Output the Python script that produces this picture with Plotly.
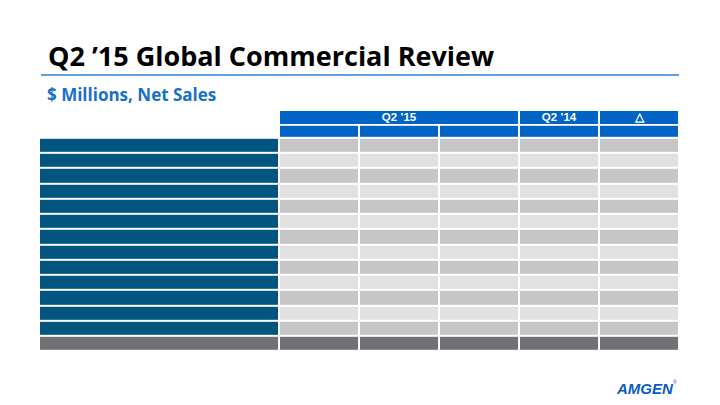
import plotly.graph_objects as go

# ---------------- data ----------------
title_text = "Q2 ’15 Global Commercial Review"
subtitle_text = "$ Millions, Net Sales"
group_headers = ["", "Q2 ’15", "Q2 ’14", "△"]
group_spans = [3, 3, 1, 1]
sub_headers = ["", "", "", "", "", ""]
row_labels = ["", "", "", "", "", "", "", "", "", "", "", "", ""]
total_label = [""]
n_value_cols = 5

# ---------------- styling ----------------
NAN = None
colors = ["#01557f", "#c6c6c8", "#e1e1e1", "#727074", "#0063c6"]
cs = []
for k, c in enumerate(colors):
    cs += [[k / len(colors), c], [(k + 1) / len(colors), c]]

col_units = [3] + [1] * n_value_cols
x_edges = [0]
for w in col_units:
    x_edges.append(x_edges[-1] + w)
gx_edges = [0]
for w in group_spans:
    gx_edges.append(gx_edges[-1] + w)

h1, h2, hb = 14.8, 13.0, 15.23
all_rows = row_labels + total_label
y_edges_body = [h1, h1 + h2]
for i in range(len(all_rows)):
    y_edges_body.append(y_edges_body[-1] + hb)
total_h = y_edges_body[-1]

z_body = [[NAN] + [4] * n_value_cols]
for i, lab in enumerate(row_labels):
    z_body.append([0] + [1 if i % 2 == 0 else 2] * n_value_cols)
z_body.append([3] * (n_value_cols + 1))
text_body = [sub_headers] + [[lab] + [""] * n_value_cols for lab in row_labels] + [total_label + [""] * n_value_cols]

z_group = [[NAN] + [4] * (len(group_headers) - 1)]

fig = go.Figure()
fig.add_trace(go.Heatmap(
    z=z_group, x=gx_edges, y=[0, h1], text=[group_headers],
    texttemplate="<b>%{text}</b>",
    textfont=dict(color="white", size=11.5, family="Liberation Sans"),
    colorscale=cs, zmin=-0.5, zmax=4.5, showscale=False,
    xgap=2, ygap=2, hoverinfo="skip"))
fig.add_trace(go.Heatmap(
    z=z_body, x=x_edges, y=y_edges_body, text=text_body,
    texttemplate="<b>%{text}</b>",
    textfont=dict(color="white", size=11.5, family="Liberation Sans"),
    colorscale=cs, zmin=-0.5, zmax=4.5, showscale=False,
    xgap=2, ygap=2, hoverinfo="skip"))

W, H = 720, 405
OX, OY = 8, 8  # page body margin


def px(x):
    return (x - OX) / W


def py(y):
    return 1 - (y - OY) / H


fig.update_layout(
    width=W, height=H, margin=dict(l=0, r=0, t=0, b=0),
    paper_bgcolor="white", plot_bgcolor="white", showlegend=False,
    xaxis=dict(domain=[px(39), px(679)], range=[0, x_edges[-1]], visible=False, fixedrange=True),
    yaxis=dict(domain=[py(351), py(110)], range=[total_h, 0], visible=False, fixedrange=True),
)

fig.add_annotation(text="<b>" + title_text + "</b>", xref="paper", yref="paper",
                   x=px(46), y=py(56), xanchor="left", yanchor="middle", showarrow=False,
                   font=dict(family="Open Sans", size=27, color="black"))
fig.add_shape(type="line", xref="paper", yref="paper", x0=px(41), x1=px(679),
              y0=py(75), y1=py(75), line=dict(color="#2b7fd3", width=1.5))
fig.add_annotation(text="<b>" + subtitle_text + "</b>", xref="paper", yref="paper",
                   x=px(45), y=py(94), xanchor="left", yanchor="middle", showarrow=False,
                   font=dict(family="Open Sans", size=17, color="#1a6fc9"))
fig.add_annotation(text="<b><i>AMGEN</i></b>", xref="paper", yref="paper",
                   x=px(614), y=py(388), xanchor="left", yanchor="middle", showarrow=False,
                   font=dict(family="Liberation Sans", size=15, color="#0a5bc4"))
fig.add_annotation(text="®", xref="paper", yref="paper",
                   x=px(671), y=py(382), xanchor="left", yanchor="middle", showarrow=False,
                   font=dict(family="Liberation Sans", size=5, color="#0a5bc4"))

fig.write_html("out.html")
